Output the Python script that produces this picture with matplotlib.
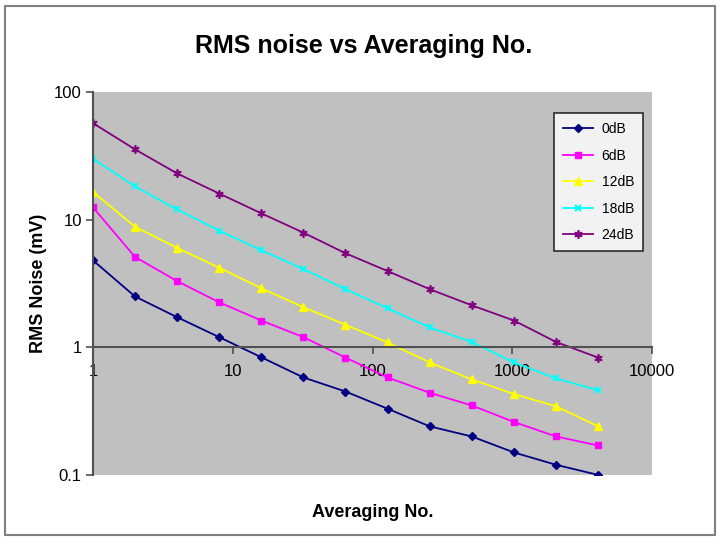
import matplotlib.pyplot as plt
from matplotlib.patches import Rectangle
from matplotlib.ticker import FixedLocator, FixedFormatter, NullLocator

averaging = [1, 2, 4, 8, 16, 32, 64, 128, 256, 512, 1024, 2048, 4096]
noise_0db = [4.8, 2.5, 1.72, 1.2, 0.835, 0.58, 0.45, 0.33, 0.24, 0.20, 0.15, 0.12, 0.10]
noise_6db = [12.5, 5.1, 3.3, 2.25, 1.62, 1.2, 0.83, 0.58, 0.44, 0.35, 0.26, 0.20, 0.17]
noise_12db = [16.5, 8.8, 6.0, 4.2, 2.9, 2.06, 1.5, 1.09, 0.76, 0.56, 0.43, 0.345, 0.24]
noise_18db = [30, 18.2, 12, 8.2, 5.75, 4.1, 2.85, 2.02, 1.43, 1.1, 0.76, 0.57, 0.46]
noise_24db = [57, 35.5, 23, 16, 11.2, 7.9, 5.45, 3.95, 2.85, 2.13, 1.62, 1.1, 0.83]
labels = ["0dB", "6dB", "12dB", "18dB", "24dB"]

x_ticks = [1, 10, 100, 1000, 10000]
y_ticks = [0.1, 1, 10, 100]

plt.rcParams['font.family'] = ['Liberation Sans', 'DejaVu Sans']

fig = plt.figure(figsize=(7.2, 5.44), dpi=100)
ax = fig.add_axes([0.129, 0.127, 0.777, 0.704])
ax.set_facecolor('#c0c0c0')

styles = [
    dict(color='#000080', marker='D', markersize=4),
    dict(color='#ff00ff', marker='s', markersize=5),
    dict(color='#ffff00', marker='^', markersize=6),
    dict(color='#00ffff', marker='x', markersize=5, markeredgewidth=1.5),
    dict(color='#800080', marker=(6, 2, 0), markersize=6, markeredgewidth=1.2),
]
series = [noise_0db, noise_6db, noise_12db, noise_18db, noise_24db]
for vals, lab, st in zip(series, labels, styles):
    ax.plot(averaging, vals, linewidth=1.3, label=lab, **st)

ax.set_xscale('log')
ax.set_yscale('log')
ax.set_xlim(1, 10000)
ax.set_ylim(0.1, 100)

ax.xaxis.set_major_locator(FixedLocator(x_ticks))
ax.xaxis.set_major_formatter(FixedFormatter([str(v) for v in x_ticks]))
ax.yaxis.set_major_locator(FixedLocator(y_ticks))
ax.yaxis.set_major_formatter(FixedFormatter(["0.1", "1", "10", "100"]))
ax.xaxis.set_minor_locator(NullLocator())
ax.yaxis.set_minor_locator(NullLocator())

ax.spines['top'].set_visible(False)
ax.spines['right'].set_visible(False)
ax.spines['bottom'].set_position(('data', 1))
for s in ['bottom', 'left']:
    ax.spines[s].set_color('#505050')
    ax.spines[s].set_linewidth(1.5)
ax.tick_params(axis='both', direction='out', length=5, width=1.2, color='#505050',
               labelsize=12, pad=3)
ax.tick_params(axis='x', pad=7)

ax.set_xlabel("Averaging No.", fontsize=13, fontweight='bold')
ax.xaxis.set_label_coords(0.5, -0.075)
ax.set_ylabel("RMS Noise (mV)", fontsize=13, fontweight='bold', labelpad=5)

fig.text(0.505, 0.915, "RMS noise vs Averaging No.", fontsize=18, fontweight='bold',
         ha='center', va='center')

leg = ax.legend(loc='upper right', bbox_to_anchor=(0.984, 0.945), borderaxespad=0,
                frameon=True, fancybox=False, edgecolor='black', fontsize=10,
                labelspacing=0.9, handlelength=2.2, borderpad=0.65, handletextpad=0.6)
leg.get_frame().set_linewidth(1.2)

fig.patches.append(Rectangle((5 / 720, 1 - 535 / 544), 710 / 720, 529 / 544,
                             transform=fig.transFigure, fill=False,
                             edgecolor='#808080', linewidth=1.5))

fig.savefig("out.png", dpi=100)
